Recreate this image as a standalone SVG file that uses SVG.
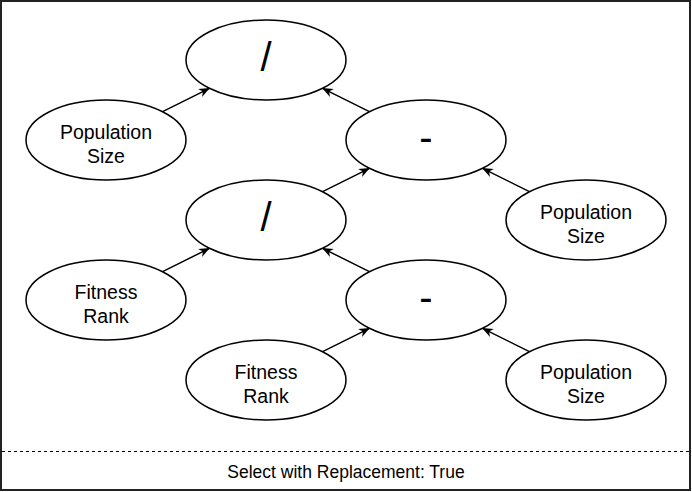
<svg xmlns="http://www.w3.org/2000/svg" width="692" height="492" viewBox="0 0 692 492">
<style>
.node ellipse{fill:#fff;stroke:#000;stroke-width:1.5}
.lbl{font-family:"Liberation Sans",Arial,sans-serif;font-size:19.5px;fill:#000;text-anchor:middle}
.op{font-family:"Liberation Sans",Arial,sans-serif;font-size:40px;fill:#000;text-anchor:middle}
.edge{stroke:#000;stroke-width:1.5;fill:none;marker-end:url(#arr)}
.foot{font-family:"Liberation Sans",Arial,sans-serif;font-size:17.5px;fill:#000;text-anchor:middle}
</style>
<defs>
<marker id="arr" viewBox="0 0 10 8" markerWidth="11" markerHeight="9" refX="9.5" refY="4" orient="auto" markerUnits="userSpaceOnUse">
<path d="M0,0 L10,4 L0,8 L3,4 Z" fill="#000"/>
</marker>
</defs>
<rect x="1" y="1" width="689" height="489" fill="#fff" stroke="#222" stroke-width="2"/>
<line x1="2" y1="451.5" x2="690" y2="451.5" stroke="#000" stroke-width="1" stroke-dasharray="3 3"/>
<text class="foot" x="346" y="478">Select with Replacement: True</text>
<g id="connectors">
<line class="edge" x1="162.6" y1="111.7" x2="209.4" y2="88.3"/>
<line class="edge" x1="369.4" y1="111.7" x2="322.6" y2="88.3"/>
<line class="edge" x1="322.6" y1="191.7" x2="369.4" y2="168.3"/>
<line class="edge" x1="529.4" y1="191.7" x2="482.6" y2="168.3"/>
<line class="edge" x1="162.6" y1="271.7" x2="209.4" y2="248.3"/>
<line class="edge" x1="369.4" y1="271.7" x2="322.6" y2="248.3"/>
<line class="edge" x1="322.6" y1="351.7" x2="369.4" y2="328.3"/>
<line class="edge" x1="529.4" y1="351.7" x2="482.6" y2="328.3"/>
</g>
<g id="div1" class="node"><ellipse cx="266" cy="60" rx="80" ry="40"/><text class="op" x="266" y="70.5">/</text></g>
<g id="popsize1" class="node"><ellipse cx="106" cy="140" rx="80" ry="40"/><text class="lbl" x="106" y="139">Population</text><text class="lbl" x="106" y="162.5">Size</text></g>
<g id="minus1" class="node"><ellipse cx="426" cy="140" rx="80" ry="40"/><text class="op" x="426" y="150.5">-</text></g>
<g id="div2" class="node"><ellipse cx="266" cy="220" rx="80" ry="40"/><text class="op" x="266" y="230.5">/</text></g>
<g id="popsize2" class="node"><ellipse cx="586" cy="220" rx="80" ry="40"/><text class="lbl" x="586" y="219">Population</text><text class="lbl" x="586" y="242.5">Size</text></g>
<g id="fitness1" class="node"><ellipse cx="106" cy="300" rx="80" ry="40"/><text class="lbl" x="106" y="299">Fitness</text><text class="lbl" x="106" y="322.5">Rank</text></g>
<g id="minus2" class="node"><ellipse cx="426" cy="300" rx="80" ry="40"/><text class="op" x="426" y="310.5">-</text></g>
<g id="fitness2" class="node"><ellipse cx="266" cy="380" rx="80" ry="40"/><text class="lbl" x="266" y="379">Fitness</text><text class="lbl" x="266" y="402.5">Rank</text></g>
<g id="popsize3" class="node"><ellipse cx="586" cy="380" rx="80" ry="40"/><text class="lbl" x="586" y="379">Population</text><text class="lbl" x="586" y="402.5">Size</text></g>
</svg>
